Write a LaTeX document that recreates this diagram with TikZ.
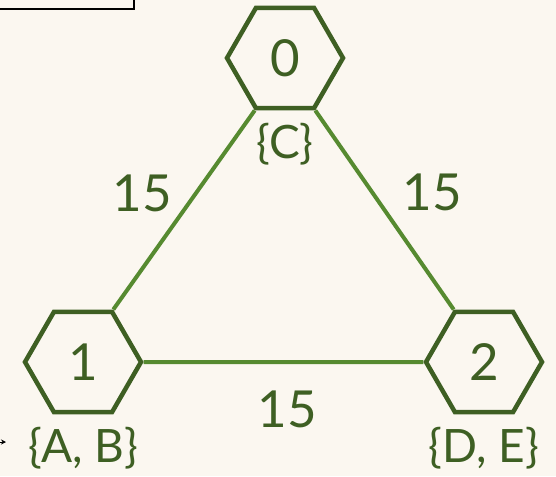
\documentclass[tikz,border=0pt]{standalone}
\usepackage{fontspec}
\setmainfont{Lato}
\usetikzlibrary{arrows.meta,positioning,shapes.geometric}
\definecolor{creme}{RGB}{251,247,240}
\definecolor{vertfonce}{RGB}{62,95,35}
\definecolor{vertclair}{RGB}{86,138,48}

\tikzset{
  hexnode/.style={regular polygon, regular polygon sides=6, minimum size=116pt,
    inner sep=0pt, draw=vertfonce, line width=4.5pt, fill=creme,
    text=vertfonce, font=\fontsize{51}{51}\selectfont},
  setlabel/.style={inner sep=0pt, text=vertfonce, font=\fontsize{46}{46}\selectfont},
  weight/.style={inner sep=0pt, text=vertfonce, font=\fontsize{51}{51}\selectfont},
  edge/.style={draw=vertclair, line width=4pt}
}

\begin{document}
\begin{tikzpicture}[x=1pt,y=-1pt]
\fill[creme] (0,0) rectangle (556,476);
\useasboundingbox (0,0) rectangle (556,476);
\clip (0,0) rectangle (556,476);

% partition nodes
\foreach \n/\x/\y in {0/285/58, 1/83/362, 2/484/362} {
  \node[hexnode] (h\n) at (\x,\y) {\n};
}

% edges with weights
\draw[edge] (h0.240) -- (h1.60);
\draw[edge] (h0.300) -- (h2.120);
\draw[edge] (h1.0) -- (h2.180);
\node[weight] (w01) at (142,193) {15};
\node[weight] (w02) at (432,192) {15};
\node[weight] (w12) at (287,409) {15};

% vertex sets
\foreach \n/\set in {0/{\{C\}}, 1/{\{A, B\}}, 2/{\{D, E\}}} {
  \node[setlabel, below=13pt of h\n] (s\n) {\set};
}

% cut-off pieces at the margins
\node[draw=black, line width=2pt, minimum width=160pt, minimum height=30pt, inner sep=0pt] (frame) at (54,-6) {};
\coordinate (src) at (-12,442);
\coordinate (tip) at (6,442);
\draw[-{Stealth[length=5pt,width=5pt]}, line width=0.8pt] (src) -- (tip);
\end{tikzpicture}
\end{document}
